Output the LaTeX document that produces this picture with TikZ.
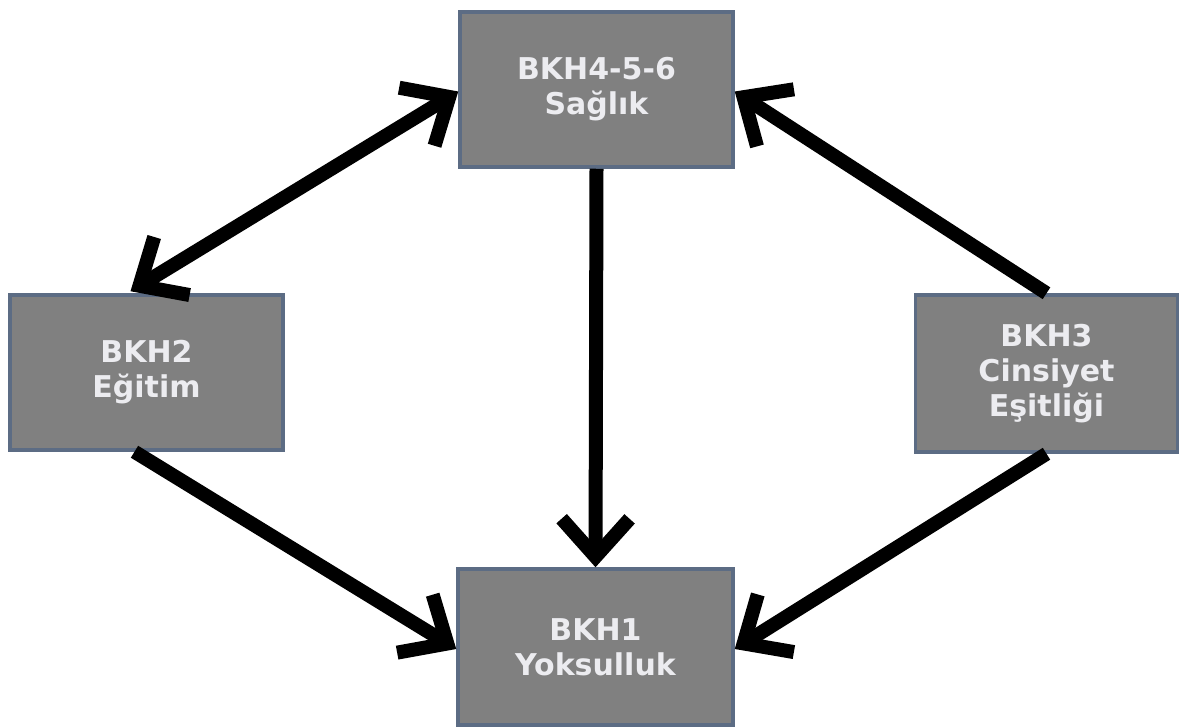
\documentclass[tikz,border=0pt]{standalone}
\usepackage{fontspec}
\newfontfamily\boxfont{DejaVu Sans}
\usetikzlibrary{arrows.meta}
\definecolor{boxfill}{RGB}{128,128,128}
\definecolor{boxline}{RGB}{92,108,132}
\definecolor{boxtext}{RGB}{236,236,240}
\tikzset{
  barb/.tip={Straight Barb[length=38pt,width=68pt,line width=14pt]},
  goalbox/.style={draw=boxline, line width=3.5pt, fill=boxfill, text=boxtext,
    align=center, inner sep=0pt,
    font=\boxfont\bfseries\fontsize{30}{35}\selectfont},
  link/.style={line width=14pt, draw=black, -barb},
  biglink/.style={line width=14pt, draw=black, barb-barb}
}
\begin{document}
\begin{tikzpicture}[x=1pt,y=-1pt]
\useasboundingbox (0,0) rectangle (1179,728);
\node[goalbox, minimum width=273pt, minimum height=155pt] (top) at (596.5,89.5) {BKH4-5-6\\Sağlık};
\node[goalbox, minimum width=273pt, minimum height=155pt] (left) at (146.5,372.5) {BKH2\\Eğitim};
\node[goalbox, minimum width=262pt, minimum height=157pt] (right) at (1046.5,373.5) {BKH3\\Cinsiyet\\Eşitliği};
\node[goalbox, minimum width=275pt, minimum height=156pt] (bot) at (595.5,647) {BKH1\\Yoksulluk};
\draw[biglink] ([xshift=-16pt,yshift=2pt]left.north) -- ([yshift=-2pt]top.west);
\draw[link] (top.south) -- (bot.north);
\draw[link] (right.north) -- ([yshift=-2pt]top.east);
\draw[link] ([xshift=-12pt]left.south) -- ([yshift=-2pt]bot.west);
\draw[link] (right.south) -- ([yshift=-2pt]bot.east);
\end{tikzpicture}
\end{document}
